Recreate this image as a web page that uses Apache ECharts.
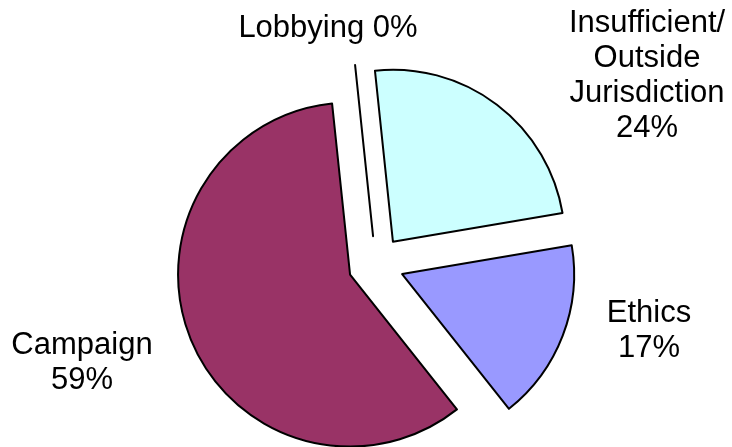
<!DOCTYPE html>
<html>
<head>
<meta charset="utf-8">
<script src="https://cdn.jsdelivr.net/npm/echarts@6/dist/echarts.min.js"></script>
<style>
html,body{margin:0;padding:0;background:#fff;}
#chart{width:732px;height:447px;}
</style>
</head>
<body>
<div id="chart"></div>
<script>
const categories = ['Insufficient/\nOutside\nJurisdiction', 'Ethics', 'Campaign', 'Lobbying'];
const values = [24, 17, 59, 0];
const colors = ['#CCFFFF', '#9999FF', '#993366', '#FFFFFF'];
const labelPos = [[647, 76], [649, 331], [82, 363], [328, 28]];

const total = values.reduce(function (a, b) { return a + b; }, 0);
const labelTexts = categories.map(function (c, i) {
  const pct = Math.round(values[i] / total * 100) + '%';
  return i === 3 ? c + ' ' + pct : c + '\n' + pct;
});

const chart = echarts.init(document.getElementById('chart'));
chart.setOption({
  backgroundColor: '#ffffff',
  animation: false,
  graphic: labelTexts.map(function (t, i) {
    return {
      type: 'text',
      x: labelPos[i][0],
      y: labelPos[i][1],
      silent: true,
      style: {
        text: t,
        fill: '#000',
        font: '31px Arial, "Liberation Sans", sans-serif',
        lineHeight: 35,
        align: 'center',
        verticalAlign: 'middle'
      }
    };
  }),
  series: [{
    type: 'pie',
    center: [376, 264],
    radius: 172,
    startAngle: 96,
    clockwise: true,
    selectedMode: 'multiple',
    selectedOffset: 28,
    stillShowZeroSum: true,
    itemStyle: { borderColor: '#000', borderWidth: 2 },
    emphasis: { disabled: true },
    label: { show: false },
    labelLine: { show: false },
    data: categories.map(function (c, i) {
      return { name: c, value: values[i], selected: true, itemStyle: { color: colors[i] } };
    })
  }]
});
</script>
</body>
</html>
